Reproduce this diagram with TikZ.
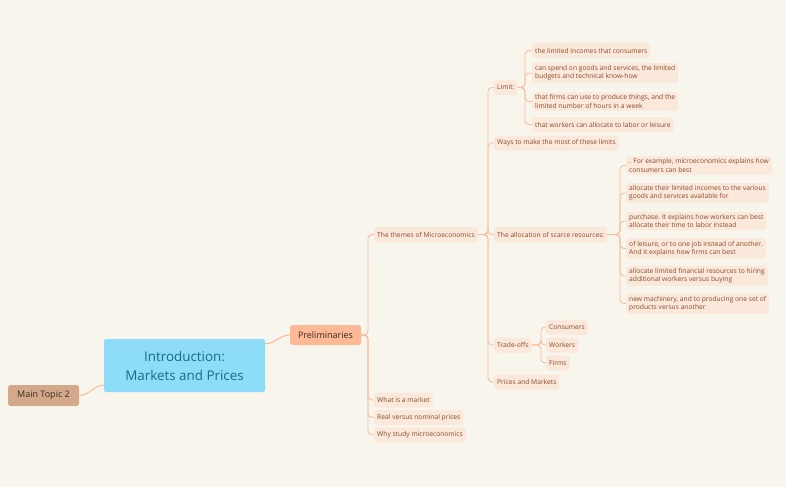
\documentclass[tikz,border=0pt]{standalone}
\usepackage{fontspec}
\setmainfont{Open Sans}
\definecolor{bgc}{HTML}{F8F6EC}
\definecolor{leaffill}{HTML}{FAE8DA}
\definecolor{leaftext}{HTML}{8E4A2C}
\definecolor{linec}{HTML}{F9BD9E}
\definecolor{centfill}{HTML}{8EDDF8}
\definecolor{centtext}{HTML}{1B6C80}
\definecolor{prelfill}{HTML}{FDB896}
\definecolor{mainfill}{HTML}{D4A98B}
\definecolor{darktext}{HTML}{3A2A22}
\begin{document}
\begin{tikzpicture}[x=1pt,y=-1pt,
  leaf/.style={fill=leaffill, text=leaftext, rounded corners=3pt, inner xsep=3pt, inner ysep=2.5pt,
    minimum height=15pt, font=\fontsize{6.7}{8.3}\selectfont, align=left, anchor=west},
  conn/.style={draw=linec, line width=0.9pt, rounded corners=4pt},
  curv/.style={draw=linec, line width=1.1pt}]
\fill[bgc] (0,0) rectangle (786,487);
\useasboundingbox (0,0) rectangle (786,487);

% trunk x positions
\coordinate (t1) at (368,0);
\coordinate (t2) at (488,0);
\coordinate (t3) at (525,0);
\coordinate (t4) at (620,0);
\coordinate (t5) at (541,0);

% main nodes
\node[fill=centfill, text=centtext, rounded corners=2pt, minimum width=161pt, minimum height=53pt,
  align=center, font=\fontsize{13.4}{19}\selectfont] (c) at (184.5,365.5) {Introduction:\\Markets and Prices};
\node[fill=prelfill, text=darktext, rounded corners=2.5pt, minimum width=71pt, minimum height=20pt,
  font=\fontsize{9}{10}\selectfont] (p) at (325.5,335) {Preliminaries};
\node[fill=mainfill, text=darktext, rounded corners=2.5pt, minimum width=71pt, minimum height=21pt,
  font=\fontsize{9}{10}\selectfont] (m) at (43.5,395.5) {Main Topic 2};

% level 1
\node[leaf] (th) at (374,234.5) {The themes of Microeconomics};
\node[leaf] (wm) at (374,400) {What is a market};
\node[leaf] (rv) at (374,417.5) {Real versus nominal prices};
\node[leaf] (ws) at (374,435) {Why study microeconomics};

% level 2
\node[leaf] (li) at (494,87.5) {Limit:};
\node[leaf] (wa) at (494,143) {Ways to make the most of these limits};
\node[leaf] (al) at (494,234.5) {The allocation of scarce resources:};
\node[leaf] (to) at (494,345) {Trade-offs};
\node[leaf] (pm) at (494,382) {Prices and Markets};

% limit children
\node[leaf] (l1) at (532,50.5) {the limited incomes that consumers};
\node[leaf] (l2) at (532,73) {can spend on goods and services, the limited\\budgets and technical know-how};
\node[leaf] (l3) at (532,101.5) {that firms can use to produce things, and the\\limited number of hours in a week};
\node[leaf] (l4) at (532,124.5) {that workers can allocate to labor or leisure};

% allocation children
\node[leaf] (a1) at (626,165.5) {. For example, microeconomics explains how\\consumers can best};
\node[leaf] (a2) at (626,193) {allocate their limited incomes to the various\\goods and services available for};
\node[leaf] (a3) at (626,221) {purchase. It explains how workers can best\\allocate their time to labor instead};
\node[leaf] (a4) at (626,248.5) {of leisure, or to one job instead of another.\\And it explains how firms can best};
\node[leaf] (a5) at (626,276) {allocate limited financial resources to hiring\\additional workers versus buying};
\node[leaf] (a6) at (626,303.5) {new machinery, and to producing one set of\\products versus another};

% trade-offs children
\node[leaf] (o1) at (546,327) {Consumers};
\node[leaf] (o2) at (546,345) {Workers};
\node[leaf] (o3) at (546,363) {Firms};

% curved connectors
\draw[curv] ([yshift=-5pt]c.north east) to[out=0,in=180] (p.west);
\draw[curv] ([yshift=7pt]c.south west) to[out=180,in=0] (m.east);

% tree connectors
\foreach \k in {th,wm,rv,ws}{\draw[conn] (p.east) -- (p.east -| t1) |- (\k.west);}
\foreach \k in {li,wa,al,to,pm}{\draw[conn] (th.east) -- (th.east -| t2) |- (\k.west);}
\foreach \k in {l1,l2,l3,l4}{\draw[conn] (li.east) -- (li.east -| t3) |- (\k.west);}
\foreach \k in {a1,a2,a3,a4,a5,a6}{\draw[conn] (al.east) -- (al.east -| t4) |- (\k.west);}
\foreach \k in {o1,o2,o3}{\draw[conn] (to.east) -- (to.east -| t5) |- (\k.west);}
\end{tikzpicture}
\end{document}
